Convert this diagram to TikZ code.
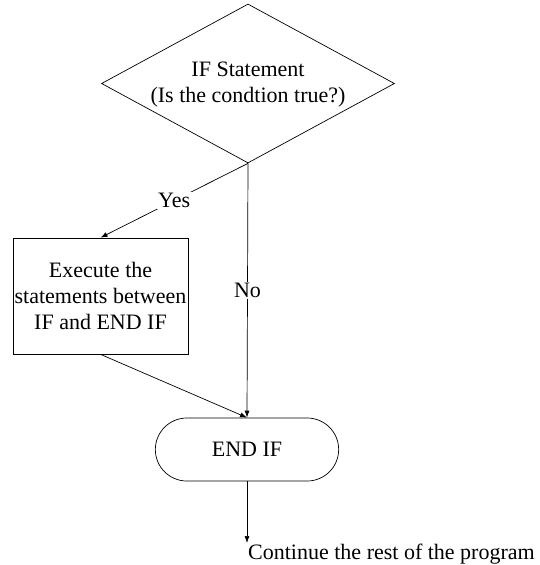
\documentclass[tikz,border=0pt]{standalone}
\usepackage{fontspec}
\setmainfont{Liberation Serif}
\usetikzlibrary{shapes.geometric, shapes.misc, arrows.meta}

\begin{document}
\begin{tikzpicture}[x=1pt, y=-1pt,
		every node/.style={font=\fontsize{22}{26}\selectfont},
		flow/.style={line width=0.7pt, -{Latex[length=7pt, width=5pt]}},
		tag/.style={fill=white, inner sep=1.5pt}]
	\useasboundingbox (0,0) rectangle (539,565);

	\node[draw, diamond, line width=0.7pt, minimum width=293pt, minimum height=159pt, inner sep=0pt]
		(cond) at (248,83.5) {};
	\node[align=center, inner sep=0pt] (condtext) at (248,84.5)
		{IF Statement\\(Is the condtion true?)};

	\node[draw, rectangle, line width=0.7pt, minimum width=175pt, minimum height=116pt,
		inner sep=0pt, align=center]
		(exec) at (100.5,296) {Execute the\\statements between\\IF and END IF};

	\node[draw, rounded rectangle, line width=0.7pt, minimum width=190pt, minimum height=63pt]
		(endif) at (247,449.5) {END IF};

	\draw[flow] (cond.south) -- node[tag] {Yes} (exec.north);
	\draw[flow] (cond.south) -- node[tag] {No} (endif.north);
	\draw[flow] (exec.south) -- (endif.north);

	\coordinate (after) at (247,543);
	\draw[flow] (endif.south) -- (after);
	\node[anchor=base west, inner sep=0pt] (rest) at (248,559)
		{Continue the rest of the program};
\end{tikzpicture}
\end{document}
